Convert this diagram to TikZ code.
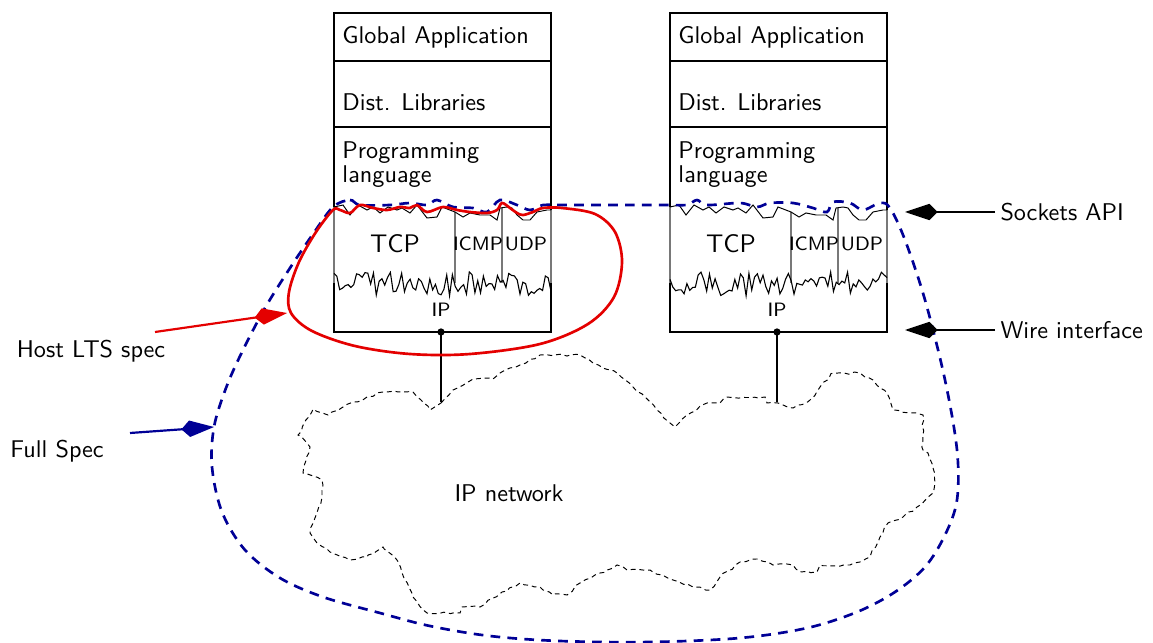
\documentclass[tikz,border=0pt]{standalone}
\usetikzlibrary{arrows.meta,decorations.pathmorphing}
\renewcommand{\familydefault}{\sfdefault}
\definecolor{specblue}{RGB}{0,0,150}
\definecolor{hostred}{RGB}{228,0,0}
\definecolor{dividergray}{RGB}{120,120,120}

% one host: application layers, TCP/ICMP/UDP over IP
\newcommand\hoststack[2]{%
\begin{scope}[shift={(#1,0)}]
  % upper layers
  \draw[frame] (334,212) -- (334,13) -- (551,13) -- (551,212);
  \draw[frame] (334,61) -- (551,61);
  \draw[frame] (334,127) -- (551,127);
  \node[lbl, anchor=west] (#2ga) at (342,37) {Global Application};
  \node[lbl, anchor=west] (#2dl) at (342,102) {Dist. Libraries};
  \node[lbl, anchor=north west, align=left] (#2pl) at (342,141) {Programming\\language};
  % protocol layer
  \draw[divider] (334,207) -- (334,283);
  \draw[divider] (551,210) -- (551,283);
  \draw[divider] (455,212) -- (455,283);
  \draw[divider] (502,208) -- (502,283);
  \draw[thin] plot coordinates {(334,207) (343,205) (350,215) (358,205) (367,210) (373,207)
     (380,213) (388,207) (397,210) (402,208) (410,213) (417,205) (427,218) (437,217)
     (442,207) (455,212) (463,217) (470,213) (480,215) (490,215) (497,220) (500,208)
     (507,207) (512,208) (517,215) (523,220) (530,220) (537,212) (547,210) (551,210)};
  \node[font=\fontsize{10.5}{12}\selectfont, inner sep=0pt] (#2tcp) at (395,244) {TCP};
  \node[small] (#2icmp) at (478,244) {ICMP};
  \node[small] (#2udp) at (526,244) {UDP};
  % IP layer: noisy boundary
  \draw[line width=0.45pt] plot[domain=334:551, samples=78] (\x,{284+12*rand});
  \draw[frame] (334,283) -- (334,332) -- (551,332) -- (551,283);
  \node[small] (#2ip) at (441,310) {IP};
  \coordinate (#2port) at (441,332);
  \coordinate (#2net) at (441,402);
  \fill (#2port) circle[radius=1.5pt];
  \draw[wire] (#2port) -- (#2net);
\end{scope}}

\begin{document}
\begin{tikzpicture}[x=0.413pt,y=-0.413pt,
  frame/.style={line width=0.55pt},
  divider/.style={line width=0.55pt, dividergray},
  lbl/.style={font=\fontsize{10}{10}\selectfont, inner sep=0pt},
  small/.style={font=\footnotesize, inner sep=0pt},
  wire/.style={line width=0.9pt},
  cloudline/.style={line width=0.4pt, dash pattern=on 2pt off 1.6pt,
     decorate, decoration={random steps, segment length=2.2pt, amplitude=0.5pt}},
  specline/.style={specblue, line width=1.1pt, dash pattern=on 4pt off 3pt},
  hostline/.style={hostred, line width=1.1pt},
  kite/.style={-{Kite[length=13.5pt, width=6.8pt, inset=3.4pt]}},
  pointer/.style={line width=0.9pt, kite}]
\useasboundingbox (0,0) rectangle (1153,643);
\pgfmathsetseed{11}

% the network cloud
\draw[cloudline] (441,403) -- (453,390) -- (473,379) -- (493,379) -- (500,373) -- (520,365)
  -- (540,355) -- (580,355) -- (593,363) -- (617,373) -- (633,387) -- (645,397) -- (657,410)
  -- (670,423) -- (675,427) -- (687,415) -- (707,403) -- (720,403) -- (727,397) -- (765,397)
  -- (767,403) -- (778,403) -- (783,405) -- (793,408) -- (810,400) -- (820,387) -- (833,373)
  -- (860,373) -- (873,380) -- (887,393) -- (893,410) -- (910,413) -- (923,415) -- (923,450)
  -- (928,453) -- (933,468) -- (935,483) -- (933,493) -- (917,507) -- (903,517) -- (888,523)
  -- (880,537) -- (870,557) -- (850,565) -- (820,565) -- (817,572) -- (800,572) -- (793,565)
  -- (773,565) -- (757,559) -- (740,562) -- (720,577) -- (710,590) -- (693,587) -- (673,580)
  -- (650,570) -- (627,570) -- (617,565) -- (600,573) -- (580,583) -- (567,595) -- (553,595)
  -- (540,587) -- (520,583) -- (493,598) -- (480,607) -- (462,607) -- (460,613) -- (427,613)
  -- (413,597) -- (397,560) -- (383,547) -- (367,557) -- (350,560) -- (330,552) -- (317,543)
  -- (310,533) -- (322,497) -- (322,480) -- (303,473) -- (310,447) -- (298,435) -- (313,409)
  -- (328,415) -- (343,407) -- (367,397) -- (383,392) -- (413,392) -- (430,410) -- cycle;
\node[lbl] (net) at (509,493) {IP network};

% the two hosts
\hoststack{0}{a}
\hoststack{336}{b}

% full specification boundary
\draw[specline] plot[smooth cycle, tension=0.55] coordinates {
  (333,207) (350,200) (360,205) (390,205) (410,203) (427,205) (437,200) (453,207)
  (473,208) (487,212) (500,200) (517,205) (530,210) (543,205) (560,205) (615,205)
  (670,205) (687,205) (697,200) (707,205) (740,203) (757,207) (770,203) (793,203)
  (813,208) (827,212) (833,202) (850,203) (863,210) (880,203) (890,208) (905,240)
  (925,300) (945,380) (957,450) (957,500) (945,535) (925,567) (895,592) (857,612)
  (807,628) (740,638) (650,642) (560,641) (490,636) (430,626) (380,613) (323,597)
  (280,578) (245,550) (222,512) (212,467) (214,427) (226,388) (242,352) (265,308)
  (290,268) (313,234)};

% host specification boundary
\draw[hostline] plot[smooth cycle, tension=0.55] coordinates {
  (333,210) (340,210) (350,213) (360,205) (373,208) (387,210) (400,207) (410,208)
  (417,205) (427,212) (443,207) (457,210) (470,212) (487,213) (497,210) (502,203)
  (510,208) (517,213) (523,215) (533,212) (543,208) (562,208) (595,214) (615,232)
  (622,262) (614,297) (588,324) (540,344) (470,354) (410,354) (355,346) (312,331)
  (291,313) (289,292) (299,262) (316,232)};

% labels and pointers
\node[lbl, anchor=west] (sock) at (1000,212) {Sockets API};
\coordinate (sockTip) at (905,212);
\draw[pointer] (sock.west) ++(-5,0) -- (sockTip);

\node[lbl, anchor=west] (wirelbl) at (1000,330) {Wire interface};
\coordinate (wireTip) at (905,330);
\draw[pointer] (wirelbl.west) ++(-5,0) -- (wireTip);

\node[lbl] (host) at (91,351) {Host LTS spec};
\coordinate (hostTail) at (155,332);
\coordinate (hostTip) at (287,313);
\draw[pointer, hostred] (hostTail) -- (hostTip);

\node[lbl] (full) at (57,451) {Full Spec};
\coordinate (fullTail) at (130,433);
\coordinate (fullTip) at (214,427);
\draw[pointer, specblue] (fullTail) -- (fullTip);
\end{tikzpicture}
\end{document}
